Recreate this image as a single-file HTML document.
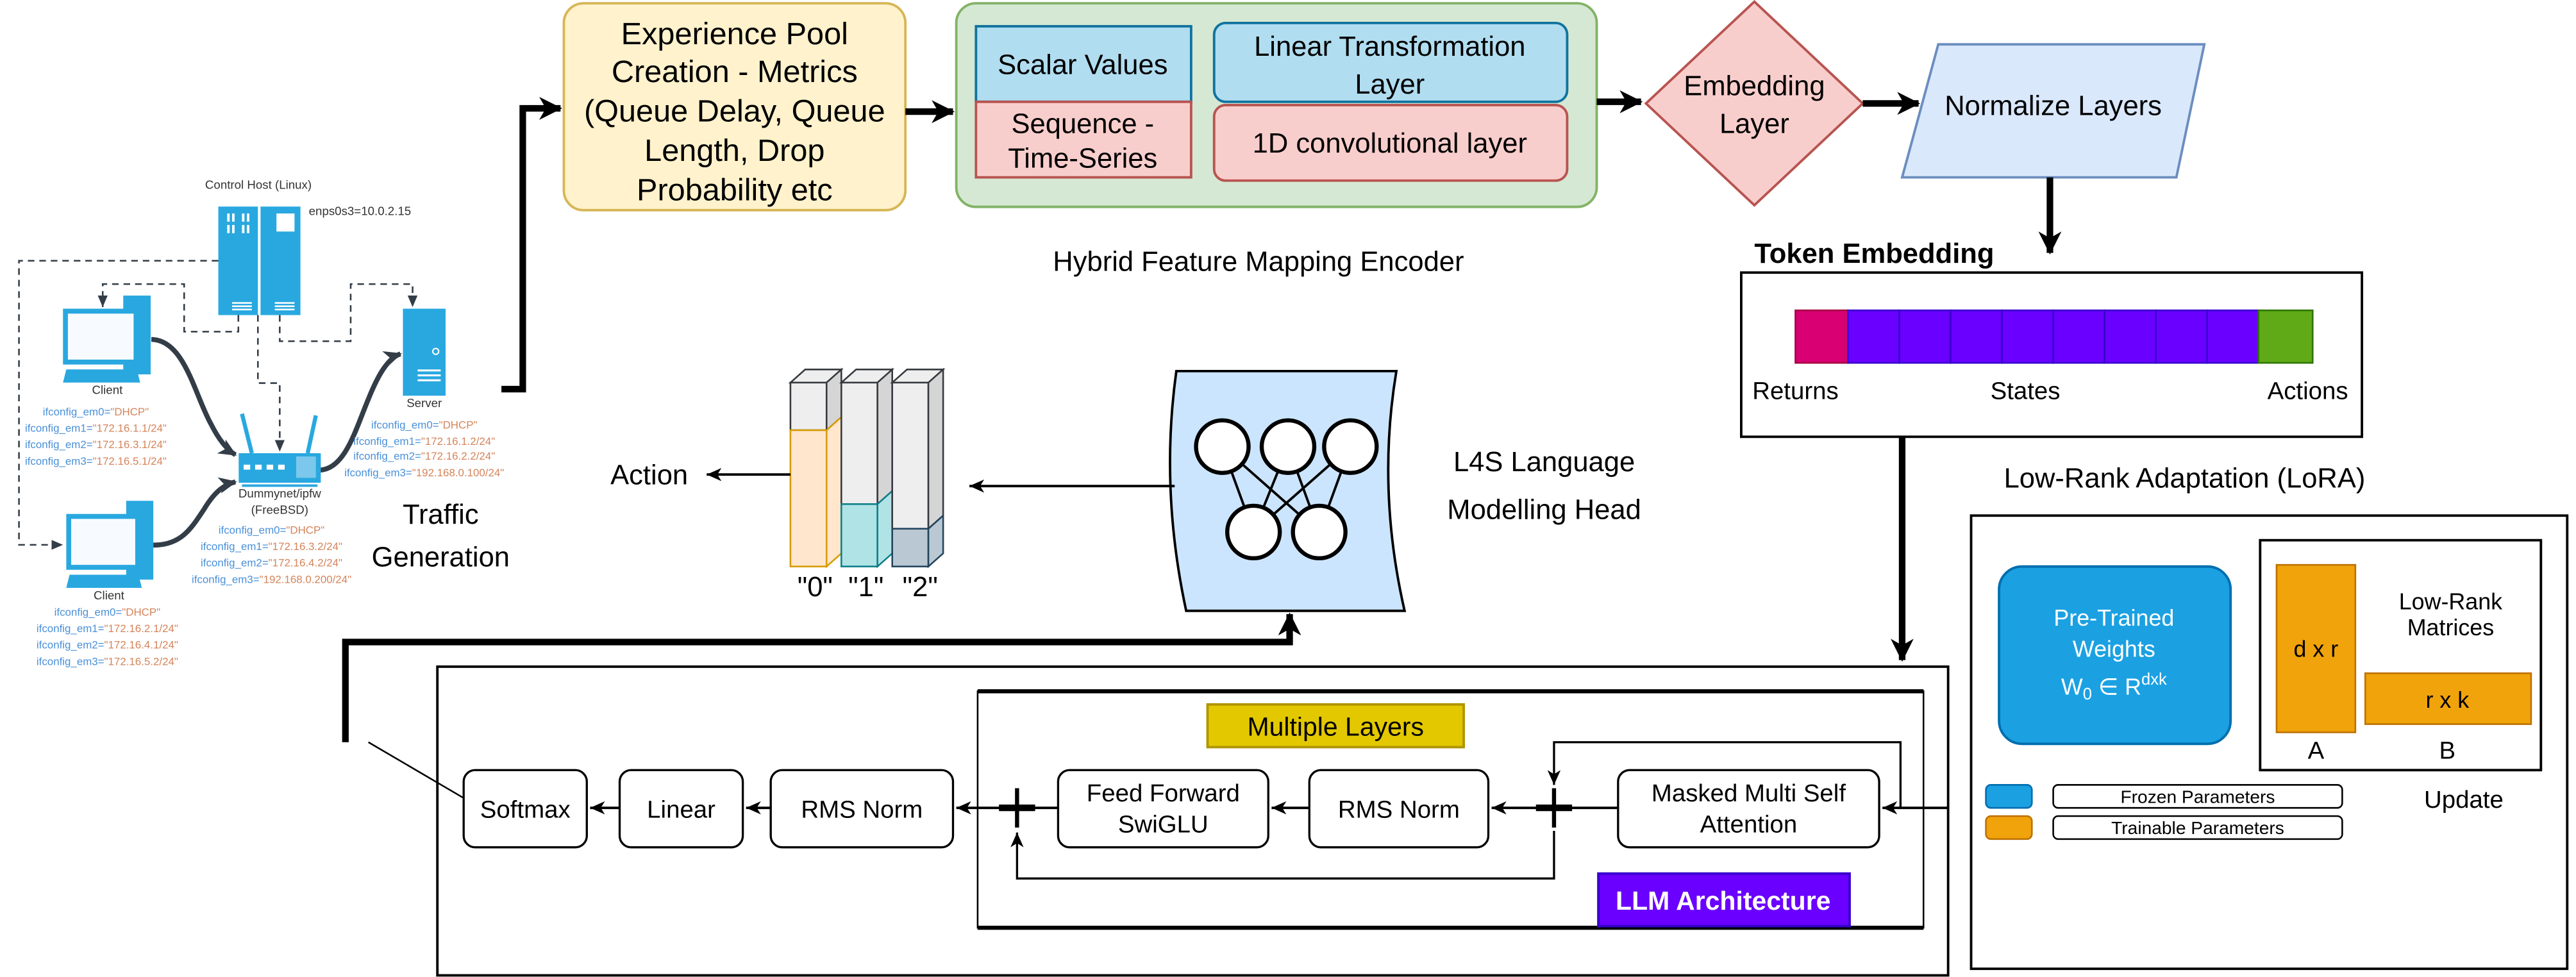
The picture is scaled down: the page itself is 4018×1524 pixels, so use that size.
<!DOCTYPE html>
<html><head><meta charset="utf-8"><style>html,body{margin:0;padding:0;background:#fff}svg{display:block}text{font-family:"Liberation Sans",sans-serif}</style></head>
<body>
<svg xmlns="http://www.w3.org/2000/svg" width="4018" height="1524" viewBox="0 0 1568 595">
<defs>
<marker id="a" markerWidth="16" markerHeight="16" refX="13" refY="8" orient="auto" markerUnits="userSpaceOnUse"><path d="M0,1 L14,8 L0,15 L4,8Z" fill="#000"/></marker>
<marker id="s" markerWidth="10" markerHeight="10" refX="9" refY="5" orient="auto" markerUnits="userSpaceOnUse"><path d="M0,1 L9,5 L0,9 L2.5,5Z" fill="#000"/></marker>
<marker id="d" markerWidth="8" markerHeight="8" refX="7" refY="4" orient="auto" markerUnits="userSpaceOnUse"><path d="M0,1 L7,4 L0,7Z" fill="#333d47"/></marker>
<marker id="g" markerWidth="12" markerHeight="12" refX="10" refY="6" orient="auto" markerUnits="userSpaceOnUse"><path d="M0,1 L11,6 L0,11 L3,6Z" fill="#333d47"/></marker>
</defs>

<!-- ===== Traffic generation network ===== -->
<g fill="none" stroke="#333d47" stroke-width="1" stroke-dasharray="4,3">
<polyline points="132.6,158.8 11.2,158.8 11.2,331.8 38,331.8" marker-end="url(#d)"/>
<polyline points="144.8,191.9 144.8,202 111.8,202 111.8,173 62.2,173 62.2,187" marker-end="url(#d)"/>
<polyline points="156.7,191.9 156.7,233.3 170,233.3 170,275" marker-end="url(#d)"/>
<polyline points="170,191.9 170,207.8 213.2,207.8 213.2,173 250.9,173 250.9,187" marker-end="url(#d)"/>
</g>
<g fill="none" stroke="#333d47" stroke-width="3">
<path d="M91.8,206.7 C112,207 118,240 128,258 C133,268 138,274 143,277" marker-end="url(#g)"/>
<path d="M93,332 C110,332 116,322 124,310 C130,300 136,295 143,293.5" marker-end="url(#g)"/>
<path d="M194.8,286.3 C210,285 216,262 224,243 C230,228 236,218 243.5,215.5" marker-end="url(#g)"/>
</g>
<!-- control host -->
<rect x="132.6" y="125.8" width="24.1" height="66.1" fill="#29a8e0"/>
<rect x="158.3" y="125.8" width="24.3" height="66.1" fill="#29a8e0"/>
<g fill="#fff"><rect x="138" y="130" width="1.5" height="5"/><rect x="141" y="130" width="1.5" height="5"/><rect x="147" y="130" width="1.5" height="5"/><rect x="150" y="130" width="1.5" height="5"/>
<rect x="138" y="137" width="1.5" height="5"/><rect x="141" y="137" width="1.5" height="5"/><rect x="147" y="137" width="1.5" height="5"/><rect x="150" y="137" width="1.5" height="5"/>
<rect x="168" y="130" width="11" height="11"/>
<rect x="141" y="184" width="12" height="1"/><rect x="141" y="186" width="12" height="1"/><rect x="141" y="188" width="12" height="1"/>
<rect x="167" y="184" width="12" height="1"/><rect x="167" y="186" width="12" height="1"/><rect x="167" y="188" width="12" height="1"/></g>
<g font-size="7.3" fill="#333"><text x="157" y="115" text-anchor="middle">Control Host (Linux)</text><text x="187.7" y="131">enps0s3=10.0.2.15</text></g>
<!-- clients -->
<g>
<rect x="74.7" y="180" width="16.7" height="48" fill="#29a8e0"/>
<rect x="38" y="188" width="46" height="34" fill="#29a8e0"/><rect x="41" y="191" width="40" height="28" fill="#f7fbff"/>
<path d="M40,225 L83,225 L85,233 L38,233Z" fill="#29a8e0"/>
<rect x="76.5" y="305" width="16.5" height="48" fill="#29a8e0"/>
<rect x="40" y="313" width="45" height="34" fill="#29a8e0"/><rect x="43" y="316" width="39" height="28" fill="#f7fbff"/>
<path d="M42,350 L84,350 L86,358 L40,358Z" fill="#29a8e0"/>
<rect x="245" y="188" width="26" height="53" fill="#29a8e0"/>
<circle cx="265" cy="214" r="1.8" fill="none" stroke="#fff" stroke-width="0.8"/>
<rect x="254" y="225" width="14" height="1.2" fill="#fff"/><rect x="254" y="228" width="14" height="1.2" fill="#fff"/><rect x="254" y="231" width="14" height="1.2" fill="#fff"/>
<!-- router -->
<line x1="147" y1="252" x2="153" y2="276" stroke="#29a8e0" stroke-width="2.5"/>
<line x1="192" y1="253" x2="187" y2="276" stroke="#29a8e0" stroke-width="2.5"/>
<rect x="145" y="276" width="50" height="18" fill="#29a8e0"/>
<rect x="180" y="278" width="12" height="13" fill="#7cc8ec"/>
<g fill="#fff"><rect x="148" y="283" width="4" height="3"/><rect x="155" y="283" width="4" height="3"/><rect x="162" y="283" width="4" height="3"/><rect x="169" y="283" width="4" height="3"/></g>
<rect x="147" y="295" width="46" height="1.5" fill="#29a8e0"/>
</g>
<g font-size="7.3" fill="#333" text-anchor="middle">
<text x="65" y="240">Client</text><text x="66" y="365">Client</text><text x="258" y="248">Server</text>
<text x="170" y="303">Dummynet/ipfw</text><text x="170" y="313">(FreeBSD)</text>
</g>
<g font-size="6.6" text-anchor="middle" fill="#4a90d9">
<text x="58" y="253">ifconfig_em0=<tspan fill="#d4845a">"DHCP"</tspan></text>
<text x="58" y="263">ifconfig_em1=<tspan fill="#d4845a">"172.16.1.1/24"</tspan></text>
<text x="58" y="273">ifconfig_em2=<tspan fill="#d4845a">"172.16.3.1/24"</tspan></text>
<text x="58" y="283">ifconfig_em3=<tspan fill="#d4845a">"172.16.5.1/24"</tspan></text>
<text x="65" y="375">ifconfig_em0=<tspan fill="#d4845a">"DHCP"</tspan></text>
<text x="65" y="385">ifconfig_em1=<tspan fill="#d4845a">"172.16.2.1/24"</tspan></text>
<text x="65" y="395">ifconfig_em2=<tspan fill="#d4845a">"172.16.4.1/24"</tspan></text>
<text x="65" y="405">ifconfig_em3=<tspan fill="#d4845a">"172.16.5.2/24"</tspan></text>
<text x="165" y="325">ifconfig_em0=<tspan fill="#d4845a">"DHCP"</tspan></text>
<text x="165" y="335">ifconfig_em1=<tspan fill="#d4845a">"172.16.3.2/24"</tspan></text>
<text x="165" y="345">ifconfig_em2=<tspan fill="#d4845a">"172.16.4.2/24"</tspan></text>
<text x="165" y="355">ifconfig_em3=<tspan fill="#d4845a">"192.168.0.200/24"</tspan></text>
<text x="258" y="261">ifconfig_em0=<tspan fill="#d4845a">"DHCP"</tspan></text>
<text x="258" y="271">ifconfig_em1=<tspan fill="#d4845a">"172.16.1.2/24"</tspan></text>
<text x="258" y="280">ifconfig_em2=<tspan fill="#d4845a">"172.16.2.2/24"</tspan></text>
<text x="258" y="290">ifconfig_em3=<tspan fill="#d4845a">"192.168.0.100/24"</tspan></text>
</g>
<g font-size="17" text-anchor="middle"><text x="268" y="319">Traffic</text><text x="268" y="345">Generation</text></g>
<polyline points="305,237 318,237 318,66 341,66" fill="none" stroke="#000" stroke-width="4" marker-end="url(#a)"/>

<!-- ===== top pipeline ===== -->
<rect x="343" y="2" width="208" height="126" rx="12" fill="#fff2cc" stroke="#d6b656" stroke-width="1.5"/>
<g font-size="19" text-anchor="middle"><text x="447" y="27">Experience Pool</text><text x="447" y="50">Creation - Metrics</text><text x="447" y="74">(Queue Delay, Queue</text><text x="447" y="98">Length, Drop</text><text x="447" y="122">Probability etc</text></g>
<line x1="551" y1="68" x2="580" y2="68" stroke="#000" stroke-width="4" marker-end="url(#a)"/>
<rect x="582" y="2" width="390" height="124" rx="12" fill="#d5e8d4" stroke="#82b366" stroke-width="1.5"/>
<rect x="594" y="16" width="131" height="46" fill="#b1ddf0" stroke="#10739e" stroke-width="1.5"/>
<rect x="594" y="62" width="131" height="46" fill="#f8cecc" stroke="#b85450" stroke-width="1.5"/>
<rect x="739" y="14" width="215" height="48" rx="7" fill="#b1ddf0" stroke="#10739e" stroke-width="1.5"/>
<rect x="739" y="64" width="215" height="46" rx="7" fill="#f8cecc" stroke="#b85450" stroke-width="1.5"/>
<g font-size="17" text-anchor="middle">
<text x="659" y="45">Scalar Values</text>
<text x="659" y="81">Sequence -</text><text x="659" y="102">Time-Series</text>
<text x="846" y="34">Linear Transformation</text><text x="846" y="57">Layer</text>
<text x="846" y="93">1D convolutional layer</text>
<text x="766" y="165">Hybrid Feature Mapping Encoder</text>
</g>
<line x1="972" y1="62" x2="999" y2="62" stroke="#000" stroke-width="4" marker-end="url(#a)"/>
<polygon points="1068,1 1134,63 1068,125 1002,63" fill="#f8cecc" stroke="#b85450" stroke-width="1.5"/>
<g font-size="17" text-anchor="middle"><text x="1068" y="58">Embedding</text><text x="1068" y="81">Layer</text></g>
<line x1="1134" y1="63" x2="1168" y2="63" stroke="#000" stroke-width="4" marker-end="url(#a)"/>
<polygon points="1180,27 1342,27 1325,108 1158,108" fill="#dae8fc" stroke="#6c8ebf" stroke-width="1.5"/>
<text x="1250" y="70" font-size="17" text-anchor="middle">Normalize Layers</text>
<line x1="1248" y1="108" x2="1248" y2="154" stroke="#000" stroke-width="4" marker-end="url(#a)"/>

<!-- token embedding -->
<text x="1068" y="160" font-size="17" font-weight="bold">Token Embedding</text>
<rect x="1060" y="166" width="378" height="100" fill="#fff" stroke="#000" stroke-width="1.5"/>
<rect x="1093" y="189" width="32" height="32" fill="#d80073" stroke="#a50040"/>
<g fill="#6a00ff" stroke="#3700cc">
<rect x="1125" y="189" width="31.25" height="32"/><rect x="1156.25" y="189" width="31.25" height="32"/><rect x="1187.5" y="189" width="31.25" height="32"/><rect x="1218.75" y="189" width="31.25" height="32"/>
<rect x="1250" y="189" width="31.25" height="32"/><rect x="1281.25" y="189" width="31.25" height="32"/><rect x="1312.5" y="189" width="31.25" height="32"/><rect x="1343.75" y="189" width="31.25" height="32"/></g>
<rect x="1375" y="189" width="33" height="32" fill="#60a917" stroke="#2d7600"/>
<g font-size="15" text-anchor="middle"><text x="1093" y="243">Returns</text><text x="1233" y="243">States</text><text x="1405" y="243">Actions</text></g>
<line x1="1158" y1="266" x2="1158" y2="402" stroke="#000" stroke-width="4" marker-end="url(#a)"/>

<!-- LoRA -->
<text x="1330" y="297" font-size="17" text-anchor="middle">Low-Rank Adaptation (LoRA)</text>
<rect x="1200" y="314" width="363" height="276" fill="#fff" stroke="#000" stroke-width="1.5"/>
<rect x="1217" y="345" width="141" height="108" rx="14" fill="#1ba1e2" stroke="#006eaf" stroke-width="1.5"/>
<g font-size="14" fill="#fff" text-anchor="middle"><text x="1287" y="381">Pre-Trained</text><text x="1287" y="400">Weights</text><text x="1287" y="423">W<tspan font-size="10" dy="3">0</tspan><tspan dy="-3"> ∈ R</tspan><tspan font-size="10" dy="-6">dxk</tspan></text></g>
<rect x="1376" y="329" width="171" height="140" fill="#fff" stroke="#000" stroke-width="1.5"/>
<rect x="1386" y="344" width="48" height="102" fill="#f0a30a" stroke="#bd7000"/>
<rect x="1440" y="410" width="101" height="31" fill="#f0a30a" stroke="#bd7000"/>
<g font-size="14" text-anchor="middle"><text x="1410" y="400">d x r</text><text x="1490" y="431">r x k</text>
<text x="1492" y="371">Low-Rank</text><text x="1492" y="387">Matrices</text>
<text x="1410" y="462" font-size="15">A</text><text x="1490" y="462" font-size="15">B</text>
<text x="1500" y="492" font-size="15">Update</text></g>
<rect x="1209" y="478" width="28" height="14" rx="3" fill="#1ba1e2" stroke="#006eaf"/>
<rect x="1209" y="497" width="28" height="14" rx="3" fill="#f0a30a" stroke="#bd7000"/>
<rect x="1250" y="478" width="176" height="14" rx="3" fill="#fff" stroke="#000"/>
<rect x="1250" y="497" width="176" height="14" rx="3" fill="#fff" stroke="#000"/>
<g font-size="11" text-anchor="middle"><text x="1338" y="489">Frozen Parameters</text><text x="1338" y="508">Trainable Parameters</text></g>

<!-- LLM architecture -->
<rect x="266" y="406" width="920" height="188" fill="none" stroke="#000" stroke-width="1.5"/>
<rect x="595" y="421" width="576" height="144" fill="none" stroke="#000" stroke-width="1"/>
<line x1="595" y1="421" x2="1171" y2="421" stroke="#000" stroke-width="2.5"/>
<line x1="595" y1="565" x2="1171" y2="565" stroke="#000" stroke-width="2.5"/>
<rect x="735" y="429" width="156" height="26" fill="#e3c800" stroke="#b09500" stroke-width="1.5"/>
<text x="813" y="448" font-size="16" text-anchor="middle">Multiple Layers</text>
<rect x="973" y="532" width="153" height="32" fill="#6a00ff" stroke="#3700cc" stroke-width="1.5"/>
<text x="1049" y="554" font-size="16" font-weight="bold" fill="#fff" text-anchor="middle">LLM Architecture</text>
<g fill="#fff" stroke="#000" stroke-width="1.3">
<rect x="282" y="469" width="75" height="47" rx="7"/><rect x="377" y="469" width="75" height="47" rx="7"/>
<rect x="469" y="469" width="111" height="47" rx="7"/><rect x="644" y="469" width="128" height="47" rx="7"/>
<rect x="797" y="469" width="109" height="47" rx="7"/><rect x="985" y="469" width="159" height="47" rx="7"/>
</g>
<g font-size="15" text-anchor="middle">
<text x="319.5" y="498">Softmax</text><text x="414.5" y="498">Linear</text><text x="524.5" y="498">RMS Norm</text>
<text x="708" y="488">Feed Forward</text><text x="708" y="507">SwiGLU</text>
<text x="851.5" y="498">RMS Norm</text>
<text x="1064.5" y="488">Masked Multi Self</text><text x="1064.5" y="507">Attention</text>
</g>
<g stroke="#000" fill="none">
<line x1="1186" y1="492" x2="1146" y2="492" stroke-width="1.5" marker-end="url(#s)"/>
<line x1="985" y1="492" x2="940" y2="492" stroke-width="1.5"/>
<line x1="946" y1="492" x2="908" y2="492" stroke-width="1.5" marker-end="url(#s)"/>
<line x1="797" y1="492" x2="774" y2="492" stroke-width="1.5" marker-end="url(#s)"/>
<line x1="644" y1="492" x2="582" y2="492" stroke-width="1.5" marker-end="url(#s)"/>
<line x1="469" y1="492" x2="454" y2="492" stroke-width="1.5" marker-end="url(#s)"/>
<line x1="377" y1="492" x2="359" y2="492" stroke-width="1.5" marker-end="url(#s)"/>
<polyline points="1157,492 1157,452 946,452 946,478" stroke-width="1.3" marker-end="url(#s)"/>
<polyline points="946,506 946,535 619,535 619,507" stroke-width="1.3" marker-end="url(#s)"/>
<line x1="608" y1="492" x2="630" y2="492" stroke-width="4"/><line x1="619" y1="480" x2="619" y2="504" stroke-width="2.5"/>
<line x1="935" y1="492" x2="957" y2="492" stroke-width="4"/><line x1="946" y1="480" x2="946" y2="504" stroke-width="2.5"/>
<line x1="282" y1="486" x2="224" y2="452" stroke-width="1"/>
<polyline points="210,452 210,391 785,391 785,374" stroke-width="4" marker-end="url(#a)"/>
</g>

<!-- L4S head -->
<path d="M716,226 L850,226 Q838,298 855,372 L722,372 Q706,298 716,226 Z" fill="#cce5ff" stroke="#000" stroke-width="1.5"/>
<g stroke="#000" stroke-width="1.5">
<line x1="744" y1="272" x2="763" y2="324"/><line x1="744" y1="272" x2="803" y2="324"/>
<line x1="784" y1="272" x2="763" y2="324"/><line x1="784" y1="272" x2="803" y2="324"/>
<line x1="822" y1="272" x2="763" y2="324"/><line x1="822" y1="272" x2="803" y2="324"/>
</g>
<g fill="#fff" stroke="#000" stroke-width="2.5">
<circle cx="744" cy="272" r="16"/><circle cx="784" cy="272" r="16"/><circle cx="822" cy="272" r="16"/>
<circle cx="763" cy="324" r="16"/><circle cx="803" cy="324" r="16"/></g>
<g font-size="17" text-anchor="middle"><text x="940" y="287">L4S Language</text><text x="940" y="316">Modelling Head</text></g>
<line x1="715" y1="296" x2="590" y2="296" stroke="#000" stroke-width="1.5" marker-end="url(#s)"/>

<!-- bars -->
<g stroke="#36393d" stroke-width="1">
<!-- bar 0 -->
<polygon points="481,233 503,233 512,225 490,225" fill="#eeeeee"/>
<rect x="481" y="233" width="22" height="29" fill="#eeeeee"/><polygon points="503,233 512,225 512,254 503,262" fill="#d5d5d5"/>
<rect x="481" y="262" width="22" height="83" fill="#ffe6cc" stroke="#d79b00"/><polygon points="503,262 512,254 512,337 503,345" fill="#ffe6cc" stroke="#d79b00"/>
<!-- bar 1 -->
<polygon points="512,233 534,233 543,225 521,225" fill="#eeeeee"/>
<rect x="512" y="233" width="22" height="74" fill="#eeeeee"/><polygon points="534,233 543,225 543,299 534,307" fill="#d5d5d5"/>
<rect x="512" y="307" width="22" height="38" fill="#b0e3e6" stroke="#0e8088"/><polygon points="534,307 543,299 543,337 534,345" fill="#b0e3e6" stroke="#0e8088"/>
<!-- bar 2 -->
<polygon points="543,233 565,233 574,225 552,225" fill="#eeeeee"/>
<rect x="543" y="233" width="22" height="89" fill="#eeeeee"/><polygon points="565,233 574,225 574,314 565,322" fill="#d5d5d5"/>
<rect x="543" y="322" width="22" height="23" fill="#bac8d3" stroke="#23445d"/><polygon points="565,322 574,314 574,337 565,345" fill="#bac8d3" stroke="#23445d"/>
</g>
<g font-size="17" text-anchor="middle"><text x="496" y="363">"0"</text><text x="527" y="363">"1"</text><text x="560" y="363">"2"</text></g>
<line x1="481" y1="289" x2="430" y2="289" stroke="#000" stroke-width="1.5" marker-end="url(#s)"/>
<text x="395" y="295" font-size="17" text-anchor="middle">Action</text>
</svg>
</body></html>
